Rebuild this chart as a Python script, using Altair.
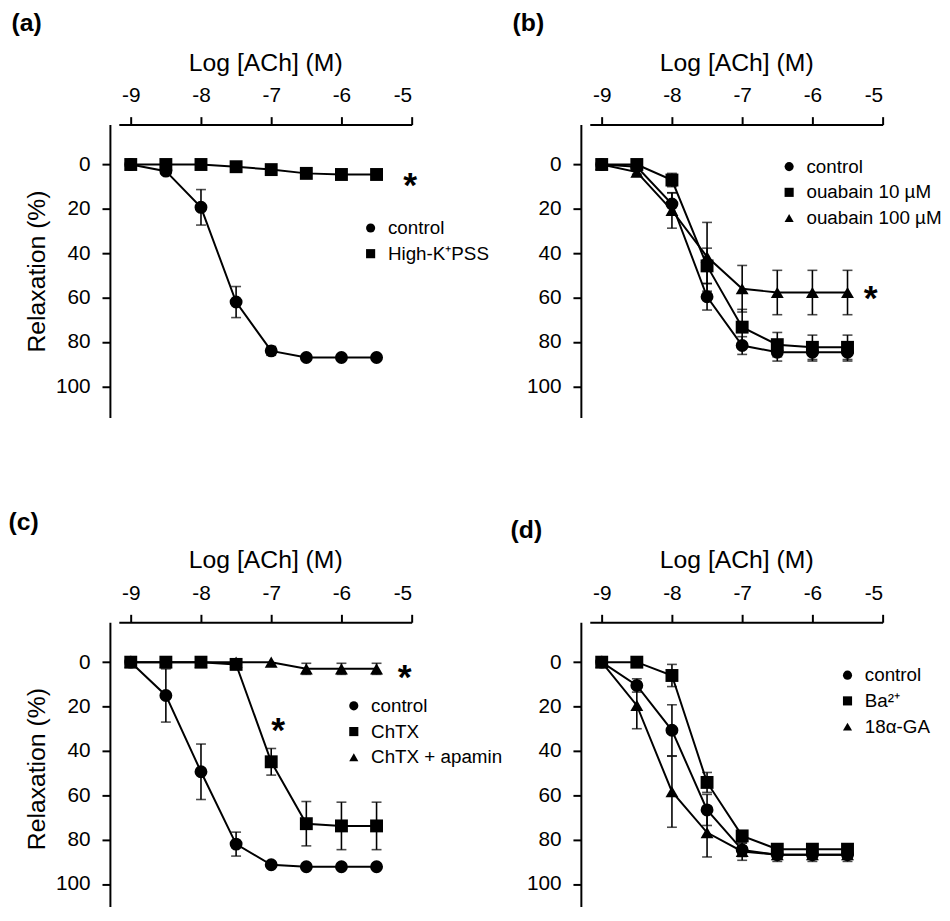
import altair as alt
import pandas as pd

# ---------------- data ----------------
x_log = [-9, -8.5, -8, -7.5, -7, -6.5, -6, -5.5]
x_ticks = [-9, -8, -7, -6, -5]
y_ticks = [0, 20, 40, 60, 80, 100]
shapes = ["circle", "square", "triangle-up"]

# (a)
a_names = ["control", "High-K\u207aPSS"]
a_control = [0, 3, 19.3, 62, 84, 87, 87, 87]
a_control_sem = [0, 1, 8, 7, 2, 1, 1, 1]
a_highk = [0, 0, 0, 1, 2.3, 4, 4.5, 4.5]
a_highk_sem = [0, 0, 0, 0, 0, 0, 0, 0]
a_star_x = [-5.02]
a_star_y = [6]

# (b)
b_names = ["control", "ouabain 10 \u00b5M", "ouabain 100 \u00b5M"]
b_control = [0, 1, 17.8, 59.6, 81.6, 84.6, 84.6, 84.6]
b_control_sem = [0, 0, 5, 6, 4, 4, 4, 4]
b_oua10 = [0, 0, 7, 45.7, 73.3, 81.2, 82.4, 82.4]
b_oua10_sem = [0, 0, 3, 8, 8, 5.5, 5.5, 5.5]
b_oua100 = [0, 3.4, 20.7, 41.6, 56, 57.7, 57.7, 57.7]
b_oua100_sem = [0, 1, 8, 15.5, 10.5, 10, 10, 10]
b_star_x = [-5.17]
b_star_y = [57]

# (c)
c_names = ["control", "ChTX", "ChTX + apamin"]
c_control = [0, 15, 49.4, 82, 91.3, 92.2, 92.2, 92.2]
c_control_sem = [0, 12, 12.5, 5.4, 1, 0.5, 0.5, 0.5]
c_chtx = [0, 0, 0, 1, 44.9, 72.8, 73.8, 73.8]
c_chtx_sem = [0, 0, 0, 0, 6, 10, 10.7, 10.7]
c_apamin = [0, 0, 0, 0, 0, 3, 3, 3]
c_apamin_sem = [0, 0, 0, 0, 0, 2.5, 2.5, 2.5]
c_star_x = [-5.1, -6.9]
c_star_y = [3.6, 27.4]

# (d)
d_names = ["control", "Ba\u00b2\u207a", "18\u03b1-GA"]
d_control = [0, 10.5, 30.7, 66.6, 84.6, 86.8, 86.8, 86.8]
d_control_sem = [0, 3, 11.5, 7, 3, 2, 2, 2]
d_ba = [0, 0, 6, 54.2, 78.3, 84.3, 84.3, 84.3]
d_ba_sem = [0, 0, 5, 4.5, 2, 1, 1, 1]
d_ga = [0, 19.5, 58.4, 76.8, 85.3, 86.8, 86.8, 86.8]
d_ga_sem = [0, 10.5, 16, 11, 4, 3, 3, 3]
d_star_x = []
d_star_y = []

W = 296
H = 296
FONT = "Liberation Sans"


def make_panel(label, names, series, sems, star_x, star_y, t_dx, t_dy,
               show_ytitle, leg_x, leg_y):
    rows = []
    for name, vals, ss in zip(names, series, sems):
        for xv, v, s in zip(x_log, vals, ss):
            rows.append({"series": name, "x": xv, "y": v, "lo": v - s,
                         "hi": v + s, "sem": s})
    df = pd.DataFrame(rows)
    err = df[df["sem"] > 0]
    caps = pd.concat([
        err[["series", "x"]].assign(c=err["lo"]),
        err[["series", "x"]].assign(c=err["hi"]),
    ])

    xscale = alt.Scale(domain=[-9.17, -5], nice=False, zero=False)
    yscale = alt.Scale(domain=[-18, 114], nice=False, zero=False, reverse=True)
    xaxis = alt.Axis(orient="top", values=x_ticks, title="Log [ACh] (M)",
                     labelExpr="'-' + toString(abs(datum.value))",
                     grid=False)
    yaxis_kw = dict(orient="left", values=y_ticks, grid=False, offset=9)
    if show_ytitle:
        yaxis = alt.Axis(title="Relaxation (%)", **yaxis_kw)
    else:
        yaxis = alt.Axis(title=None, **yaxis_kw)

    base = alt.Chart(df)
    rules = alt.Chart(err).mark_rule(color="black", strokeWidth=1.6).encode(
        x=alt.X("x:Q", scale=xscale, axis=xaxis),
        y=alt.Y("lo:Q", scale=yscale, axis=yaxis),
        y2="hi:Q",
    )
    capm = alt.Chart(caps).mark_tick(orient="horizontal", size=10,
                                      thickness=1.6, color="black").encode(
        x="x:Q", y="c:Q")
    lines = base.mark_line(color="black", strokeWidth=2).encode(
        x="x:Q", y="y:Q", detail="series:N")
    pts = base.mark_point(filled=True, opacity=1, color="black",
                          size=170).encode(
        x="x:Q", y="y:Q",
        shape=alt.Shape("series:N",
                        scale=alt.Scale(domain=names,
                                        range=shapes[:len(names)]),
                        legend=alt.Legend(orient="none", legendX=leg_x,
                                          legendY=leg_y, title=None,
                                          labelFontSize=19, labelFont=FONT,
                                          labelColor="black",
                                          symbolSize=85,
                                          symbolFillColor="black",
                                          symbolStrokeWidth=0,
                                          rowPadding=6, labelOffset=8,
                                          padding=0)),
    )
    layers = [rules, capm, lines, pts]
    if star_x:
        sdf = pd.DataFrame({"x": star_x, "y": star_y})
        stars = alt.Chart(sdf).mark_text(text="*", fontSize=36,
                                         fontWeight="bold", color="black",
                                         baseline="alphabetic", dy=19,
                                         font=FONT).encode(x="x:Q", y="y:Q")
        layers.append(stars)
    ch = alt.layer(*layers).properties(
        width=W, height=H,
        title=alt.TitleParams(text=label, anchor="start", frame="group",
                              fontSize=25, fontWeight="bold", font=FONT,
                              color="black", dx=t_dx, dy=t_dy, offset=15),
    )
    return ch


pa = make_panel("(a)", a_names, [a_control, a_highk],
                [a_control_sem, a_highk_sem], a_star_x, a_star_y,
                -108.5, 0, True, 245, 95)
pb = make_panel("(b)", b_names, [b_control, b_oua10, b_oua100],
                [b_control_sem, b_oua10_sem, b_oua100_sem], b_star_x,
                b_star_y, -78, 0, False, 192, 33)
pc = make_panel("(c)", c_names, [c_control, c_chtx, c_apamin],
                [c_control_sem, c_chtx_sem, c_apamin_sem], c_star_x,
                c_star_y, -111.5, 2, True, 228, 75)
pd_ = make_panel("(d)", d_names, [d_control, d_ba, d_ga],
                 [d_control_sem, d_ba_sem, d_ga_sem], d_star_x, d_star_y,
                 -80, 10, False, 251, 44)

chart = alt.concat(pa, pb, pc, pd_, columns=2,
                   spacing={"row": 207, "column": 180},
                   bounds="flush",
                   padding={"left": 0, "top": -2, "right": 0,
                            "bottom": -13}
                   ).resolve_scale(
    x="independent", y="independent", shape="independent"
).resolve_legend(shape="independent").configure(
    font=FONT
).configure_view(strokeWidth=0).configure_axis(
    domainColor="black", domainWidth=2, tickColor="black", tickWidth=2,
    tickSize=8, labelColor="black", titleColor="black",
    labelFontSize=21, titleFontSize=25, titleFontWeight="normal",
    labelFont=FONT, titleFont=FONT
).configure_axisX(labelPadding=11, titlePadding=10).configure_axisY(
    labelPadding=12, titlePadding=6)

chart.save("out.html", embed_options={"renderer": "svg", "actions": False})
